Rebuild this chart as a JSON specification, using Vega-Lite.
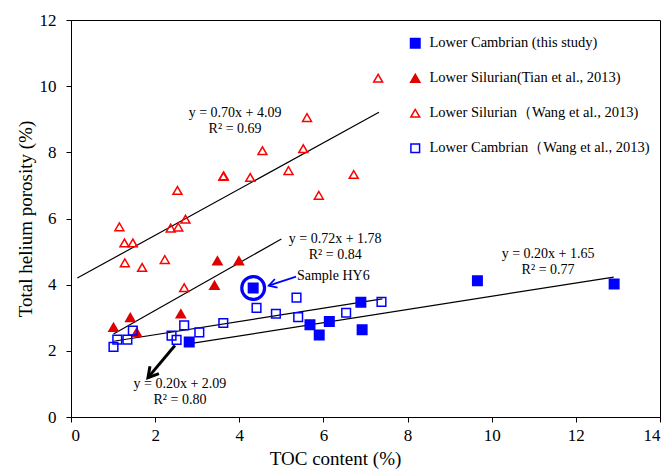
{
  "$schema": "https://vega.github.io/schema/vega-lite/v6.json",
  "width": 589,
  "height": 397,
  "autosize": {"type": "none"},
  "padding": {"left": 71, "top": 20, "right": 10, "bottom": 54},
  "background": "white",
  "config": {
    "font": "Liberation Serif",
    "view": {"stroke": "black", "strokeWidth": 1},
    "axis": {
      "grid": false,
      "domainColor": "black",
      "tickColor": "black",
      "labelColor": "black",
      "titleColor": "black",
      "labelFont": "Liberation Serif",
      "titleFont": "Liberation Serif",
      "labelFontSize": 17,
      "titleFontSize": 19,
      "titleFontWeight": "normal",
      "tickSize": 5
    },
    "legend": {
      "labelFont": "Liberation Serif",
      "labelFontSize": 14.5,
      "labelColor": "black",
      "labelLimit": 0,
      "padding": 0,
      "rowPadding": 19,
      "labelOffset": 7,
      "symbolStrokeWidth": 1.5
    }
  },
  "datasets": {
    "pts": [
      {"series": "Lower Cambrian (this study)", "toc": 4.33, "phi": 3.90},
      {"series": "Lower Cambrian (this study)", "toc": 2.81, "phi": 2.27},
      {"series": "Lower Cambrian (this study)", "toc": 5.68, "phi": 2.79},
      {"series": "Lower Cambrian (this study)", "toc": 5.90, "phi": 2.48},
      {"series": "Lower Cambrian (this study)", "toc": 6.14, "phi": 2.89},
      {"series": "Lower Cambrian (this study)", "toc": 6.89, "phi": 3.47},
      {"series": "Lower Cambrian (this study)", "toc": 6.92, "phi": 2.64},
      {"series": "Lower Cambrian (this study)", "toc": 9.66, "phi": 4.12},
      {"series": "Lower Cambrian (this study)", "toc": 12.91, "phi": 4.02},
      {"series": "Lower Silurian(Tian  et al., 2013)", "toc": 1.01, "phi": 2.71},
      {"series": "Lower Silurian(Tian  et al., 2013)", "toc": 1.41, "phi": 3.01},
      {"series": "Lower Silurian(Tian  et al., 2013)", "toc": 1.56, "phi": 2.56},
      {"series": "Lower Silurian(Tian  et al., 2013)", "toc": 2.61, "phi": 3.12},
      {"series": "Lower Silurian(Tian  et al., 2013)", "toc": 3.41, "phi": 3.98},
      {"series": "Lower Silurian(Tian  et al., 2013)", "toc": 3.48, "phi": 4.72},
      {"series": "Lower Silurian(Tian  et al., 2013)", "toc": 3.99, "phi": 4.72},
      {"series": "Lower Silurian（Wang et al., 2013)", "toc": 7.30, "phi": 10.24},
      {"series": "Lower Silurian（Wang et al., 2013)", "toc": 5.61, "phi": 9.05},
      {"series": "Lower Silurian（Wang et al., 2013)", "toc": 4.55, "phi": 8.05},
      {"series": "Lower Silurian（Wang et al., 2013)", "toc": 5.52, "phi": 8.11},
      {"series": "Lower Silurian（Wang et al., 2013)", "toc": 5.17, "phi": 7.45},
      {"series": "Lower Silurian（Wang et al., 2013)", "toc": 3.62, "phi": 7.27},
      {"series": "Lower Silurian（Wang et al., 2013)", "toc": 3.63, "phi": 7.29},
      {"series": "Lower Silurian（Wang et al., 2013)", "toc": 4.26, "phi": 7.24},
      {"series": "Lower Silurian（Wang et al., 2013)", "toc": 6.72, "phi": 7.33},
      {"series": "Lower Silurian（Wang et al., 2013)", "toc": 5.89, "phi": 6.70},
      {"series": "Lower Silurian（Wang et al., 2013)", "toc": 2.53, "phi": 6.85},
      {"series": "Lower Silurian（Wang et al., 2013)", "toc": 2.72, "phi": 5.98},
      {"series": "Lower Silurian（Wang et al., 2013)", "toc": 2.37, "phi": 5.71},
      {"series": "Lower Silurian（Wang et al., 2013)", "toc": 2.55, "phi": 5.74},
      {"series": "Lower Silurian（Wang et al., 2013)", "toc": 1.15, "phi": 5.75},
      {"series": "Lower Silurian（Wang et al., 2013)", "toc": 1.27, "phi": 5.26},
      {"series": "Lower Silurian（Wang et al., 2013)", "toc": 1.47, "phi": 5.26},
      {"series": "Lower Silurian（Wang et al., 2013)", "toc": 1.28, "phi": 4.66},
      {"series": "Lower Silurian（Wang et al., 2013)", "toc": 1.69, "phi": 4.52},
      {"series": "Lower Silurian（Wang et al., 2013)", "toc": 2.23, "phi": 4.76},
      {"series": "Lower Silurian（Wang et al., 2013)", "toc": 2.69, "phi": 3.91},
      {"series": "Lower Cambrian（Wang et al., 2013)", "toc": 1.01, "phi": 2.12},
      {"series": "Lower Cambrian（Wang et al., 2013)", "toc": 1.10, "phi": 2.34},
      {"series": "Lower Cambrian（Wang et al., 2013)", "toc": 1.34, "phi": 2.34},
      {"series": "Lower Cambrian（Wang et al., 2013)", "toc": 1.47, "phi": 2.61},
      {"series": "Lower Cambrian（Wang et al., 2013)", "toc": 2.39, "phi": 2.46},
      {"series": "Lower Cambrian（Wang et al., 2013)", "toc": 2.51, "phi": 2.33},
      {"series": "Lower Cambrian（Wang et al., 2013)", "toc": 2.69, "phi": 2.77},
      {"series": "Lower Cambrian（Wang et al., 2013)", "toc": 3.05, "phi": 2.56},
      {"series": "Lower Cambrian（Wang et al., 2013)", "toc": 3.62, "phi": 2.84},
      {"series": "Lower Cambrian（Wang et al., 2013)", "toc": 4.41, "phi": 3.30},
      {"series": "Lower Cambrian（Wang et al., 2013)", "toc": 4.87, "phi": 3.12},
      {"series": "Lower Cambrian（Wang et al., 2013)", "toc": 5.36, "phi": 3.61},
      {"series": "Lower Cambrian（Wang et al., 2013)", "toc": 5.40, "phi": 3.02},
      {"series": "Lower Cambrian（Wang et al., 2013)", "toc": 6.54, "phi": 3.15},
      {"series": "Lower Cambrian（Wang et al., 2013)", "toc": 7.38, "phi": 3.48}
    ],
    "fits": [
      {"fit": "Silurian Wang", "x1": 0.15, "y1": 4.20, "x2": 7.32, "y2": 9.21},
      {"fit": "Silurian Tian", "x1": 1.01, "y1": 2.51, "x2": 5.00, "y2": 5.38},
      {"fit": "Cambrian Wang", "x1": 1.01, "y1": 2.29, "x2": 7.40, "y2": 3.57},
      {"fit": "Cambrian this study", "x1": 2.75, "y1": 2.20, "x2": 12.90, "y2": 4.23}
    ],
    "labels": [
      {"txt": "y = 0.70x + 4.09", "toc": 3.90, "phi": 9.18},
      {"txt": "R² = 0.69", "toc": 3.90, "phi": 8.70},
      {"txt": "y = 0.72x + 1.78", "toc": 6.28, "phi": 5.38},
      {"txt": "R² = 0.84", "toc": 6.28, "phi": 4.91},
      {"txt": "y = 0.20x + 1.65", "toc": 11.34, "phi": 4.93},
      {"txt": "R² = 0.77", "toc": 11.34, "phi": 4.45},
      {"txt": "y = 0.20x + 2.09", "toc": 2.59, "phi": 1.00},
      {"txt": "R² = 0.80", "toc": 2.59, "phi": 0.51}
    ],
    "note": [{"txt": "Sample HY6", "toc": 5.37, "phi": 4.25}],
    "hy6": [{"toc": 4.33, "phi": 3.90}],
    "blueArrow": [{"x1": 5.35, "y1": 4.24, "x2": 4.70, "y2": 3.97}],
    "blackArrow": [{"x1": 2.47, "y1": 2.16, "x2": 1.83, "y2": 1.19}]
  },
  "layer": [
    {
      "data": {"name": "fits"},
      "mark": {"type": "rule", "color": "black", "strokeWidth": 1.2},
      "encoding": {
        "x": {"field": "x1", "type": "quantitative", "scale": {"domain": [0, 14], "nice": false},
              "axis": {"values": [0, 2, 4, 6, 8, 10, 12, 14], "title": "TOC  content (%)", "labelPadding": 5, "titlePadding": 6, "titleX": 264}},
        "y": {"field": "y1", "type": "quantitative", "scale": {"domain": [0, 12], "nice": false},
              "axis": {"values": [0, 2, 4, 6, 8, 10, 12], "title": "Total helium porosity (%)", "labelPadding": 10, "titlePadding": 4}},
        "x2": {"field": "x2"},
        "y2": {"field": "y2"}
      }
    },
    {
      "data": {"name": "pts"},
      "mark": {"type": "point", "filled": false, "strokeWidth": 1.5, "opacity": 1},
      "encoding": {
        "x": {"field": "toc", "type": "quantitative"},
        "y": {"field": "phi", "type": "quantitative"},
        "shape": {"field": "series", "type": "nominal",
          "scale": {"domain": ["Lower Cambrian (this study)", "Lower Silurian(Tian  et al., 2013)", "Lower Silurian（Wang et al., 2013)", "Lower Cambrian（Wang et al., 2013)"],
                    "range": ["square", "triangle-up", "triangle-up", "square"]},
          "legend": {"title": null, "orient": "none", "legendX": 337, "legendY": 16}},
        "fill": {"field": "series", "type": "nominal",
          "scale": {"domain": ["Lower Cambrian (this study)", "Lower Silurian(Tian  et al., 2013)", "Lower Silurian（Wang et al., 2013)", "Lower Cambrian（Wang et al., 2013)"],
                    "range": ["#0000ff", "#e00000", "transparent", "transparent"]},
          "legend": {"title": null, "orient": "none", "legendX": 337, "legendY": 16}},
        "stroke": {"field": "series", "type": "nominal",
          "scale": {"domain": ["Lower Cambrian (this study)", "Lower Silurian(Tian  et al., 2013)", "Lower Silurian（Wang et al., 2013)", "Lower Cambrian（Wang et al., 2013)"],
                    "range": ["#0000ff", "#e00000", "#ff0000", "#0000ff"]},
          "legend": {"title": null, "orient": "none", "legendX": 337, "legendY": 16}},
        "size": {"field": "series", "type": "nominal",
          "scale": {"domain": ["Lower Cambrian (this study)", "Lower Silurian(Tian  et al., 2013)", "Lower Silurian（Wang et al., 2013)", "Lower Cambrian（Wang et al., 2013)"],
                    "range": [90, 75, 70, 70]},
          "legend": {"title": null, "orient": "none", "legendX": 337, "legendY": 16}}
      }
    },
    {
      "data": {"name": "hy6"},
      "mark": {"type": "point", "shape": "circle", "filled": false, "fill": "transparent", "stroke": "#0000ff", "strokeWidth": 3.2, "size": 520, "opacity": 1},
      "encoding": {
        "x": {"field": "toc", "type": "quantitative"},
        "y": {"field": "phi", "type": "quantitative"}
      }
    },
    {
      "data": {"name": "blueArrow"},
      "mark": {"type": "rule", "color": "#0000ff", "strokeWidth": 1.8},
      "encoding": {
        "x": {"field": "x1", "type": "quantitative"},
        "y": {"field": "y1", "type": "quantitative"},
        "x2": {"field": "x2"},
        "y2": {"field": "y2"}
      }
    },
    {
      "data": {"name": "blueArrow"},
      "mark": {"type": "point", "shape": "M -0.7 1.2 L 0 0 L 0.7 1.2", "filled": false, "stroke": "#0000ff", "strokeWidth": 1.8, "size": 170, "angle": 253, "opacity": 1},
      "encoding": {
        "x": {"field": "x2", "type": "quantitative"},
        "y": {"field": "y2", "type": "quantitative"}
      }
    },
    {
      "data": {"name": "blackArrow"},
      "mark": {"type": "rule", "color": "black", "strokeWidth": 3},
      "encoding": {
        "x": {"field": "x1", "type": "quantitative"},
        "y": {"field": "y1", "type": "quantitative"},
        "x2": {"field": "x2"},
        "y2": {"field": "y2"}
      }
    },
    {
      "data": {"name": "blackArrow"},
      "mark": {"type": "point", "shape": "M -0.7 1.2 L 0 0 L 0.7 1.2", "filled": false, "stroke": "black", "strokeWidth": 3, "size": 280, "angle": 220, "opacity": 1},
      "encoding": {
        "x": {"field": "x2", "type": "quantitative"},
        "y": {"field": "y2", "type": "quantitative"}
      }
    },
    {
      "data": {"name": "labels"},
      "mark": {"type": "text", "font": "Liberation Serif", "fontSize": 14, "color": "black", "align": "center", "baseline": "middle"},
      "encoding": {
        "x": {"field": "toc", "type": "quantitative"},
        "y": {"field": "phi", "type": "quantitative"},
        "text": {"field": "txt"}
      }
    },
    {
      "data": {"name": "note"},
      "mark": {"type": "text", "font": "Liberation Serif", "fontSize": 14, "color": "black", "align": "left", "baseline": "middle"},
      "encoding": {
        "x": {"field": "toc", "type": "quantitative"},
        "y": {"field": "phi", "type": "quantitative"},
        "text": {"field": "txt"}
      }
    }
  ]
}
